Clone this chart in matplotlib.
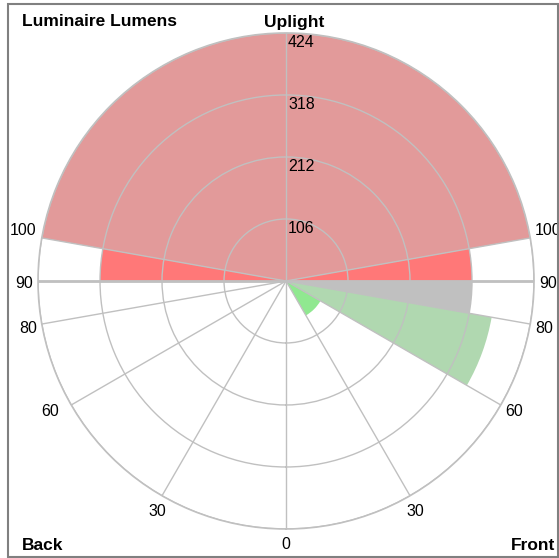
import numpy as np
import matplotlib
matplotlib.use("Agg")
import matplotlib.pyplot as plt
from matplotlib.patches import Rectangle

plt.rcParams["font.family"] = ["Liberation Sans", "DejaVu Sans"]

# zone data (angles from nadir, degrees)
zone_names = ["FL", "FM", "FH", "FVH", "BL", "BM", "BH", "BVH", "UL", "UH"]
zone_start = [0, 30, 60, 80, 0, 30, 60, 80, 90, 100]
zone_end = [30, 60, 80, 90, 30, 60, 80, 90, 100, 180]
zone_side = ["front", "front", "front", "front", "back", "back", "back", "back", "both", "both"]
zone_lumens = [0, 68, 357, 318, 0, 0, 0, 0, 318, 424]
zone_colors = ["#90E890", "#90E890", "#B0D8B0", "#C0C0C0",
               "#90E890", "#90E890", "#B0D8B0", "#C0C0C0",
               "#FF7878", "#E29A9A"]

ring_values = [106, 212, 318, 424]
spoke_angles = [0, 30, 60, 80, 90, 100]
angle_labels = ["0", "30", "60", "80", "90", "100"]


def back(a):
    # back side angles go clockwise from nadir
    return 360 - a


fig = plt.figure(figsize=(5.59, 5.58), dpi=100)
ax = fig.add_axes([0.068, 0.052, 0.8873, 0.8889], projection="polar")
ax.set_theta_zero_location("S")
ax.set_theta_direction(1)

# draw wedges, biggest zone first
order = sorted(range(len(zone_names)), key=lambda i: -zone_lumens[i])
for i in order:
    a0, a1 = zone_start[i], zone_end[i]
    w = np.deg2rad(a1 - a0)
    if zone_side[i] in ("front", "both"):
        ax.bar(np.deg2rad((a0 + a1) / 2), zone_lumens[i], width=w,
               bottom=0, color=zone_colors[i], edgecolor="none", zorder=1)
    if zone_side[i] in ("back", "both"):
        ax.bar(np.deg2rad(back((a0 + a1) / 2)), zone_lumens[i], width=w,
               bottom=0, color=zone_colors[i], edgecolor="none", zorder=1)

ax.set_xlim(0, 2 * np.pi)
ax.set_ylim(0, max(ring_values))

# grid
all_spokes = spoke_angles + [180] + [back(a) for a in spoke_angles[1:]]
ax.set_xticks(np.deg2rad(all_spokes))
ax.set_xticklabels([])
ax.set_yticks(ring_values)
ax.set_yticklabels([])
ax.set_axisbelow(False)
ax.grid(True, color="#C0C0C0", linewidth=1)
ax.spines["polar"].set_color("#C0C0C0")
ax.spines["polar"].set_linewidth(1.2)
for a in (90, back(90)):
    ax.plot([np.deg2rad(a)] * 2, [0, max(ring_values)], color="#C0C0C0", lw=2, zorder=3)

# ring labels
for r in ring_values:
    ax.annotate(str(r), xy=(np.pi, r), xytext=(2, -2), textcoords="offset pixels",
                ha="left", va="top", fontsize=11.5, annotation_clip=False)

# angle labels: (front dx, back dx, dy) in pixels
R = max(ring_values)
offsets = {0: (0, 0, -16), 30: (5, -5, -16), 60: (4, -12, -7),
           80: (5, -5, -4), 90: (5, -5, -3), 100: (5, -5, 7)}
for a, lab in zip(spoke_angles, angle_labels):
    dxf, dxb, dy = offsets[a]
    if a == 0:
        ax.annotate(lab, xy=(0, R), xytext=(dxf, dy), textcoords="offset pixels",
                    ha="center", va="center", fontsize=11.5, annotation_clip=False)
        continue
    ha_f = "center" if a == 30 else "left"
    ha_b = "center" if a == 30 else "right"
    ax.annotate(lab, xy=(np.deg2rad(a), R), xytext=(dxf, dy), textcoords="offset pixels",
                ha=ha_f, va="center", fontsize=11.5, annotation_clip=False)
    ax.annotate(lab, xy=(np.deg2rad(back(a)), R), xytext=(dxb, dy), textcoords="offset pixels",
                ha=ha_b, va="center", fontsize=11.5, annotation_clip=False)

# corner titles
fig.text(22 / 559, 1 - 22 / 558, "Luminaire Lumens", fontsize=12.5, fontweight="bold",
         ha="left", va="center")
fig.text(294 / 559, 1 - 22 / 558, "Uplight", fontsize=12.5, fontweight="bold",
         ha="center", va="center")
fig.text(22 / 559, 1 - 545 / 558, "Back", fontsize=12.5, fontweight="bold",
         ha="left", va="center")
fig.text(555 / 559, 1 - 545 / 558, "Front", fontsize=12.5, fontweight="bold",
         ha="right", va="center")

# frame
fig.patches.append(Rectangle((8 / 559, 1 / 558), 550 / 559, 553 / 558, transform=fig.transFigure,
                             fill=False, edgecolor="#808080", linewidth=1.5))

fig.savefig("out.png", dpi=100)
